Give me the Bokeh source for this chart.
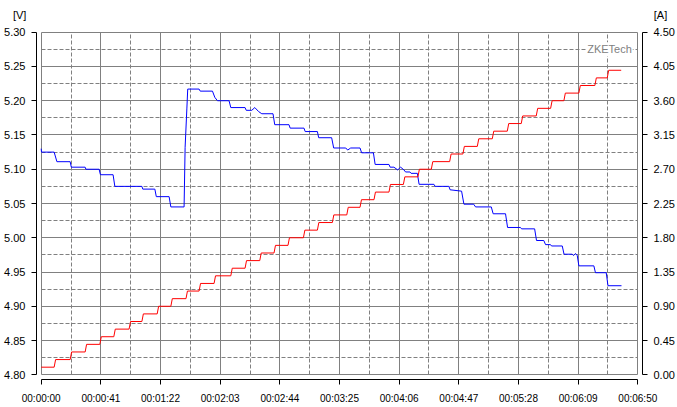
from bokeh.plotting import figure
from bokeh.models import Range1d, LinearAxis, FixedTicker, Label
from bokeh.embed import file_html
from bokeh.resources import INLINE

# ---------------- data ----------------
x_tick_seconds = [0, 41, 82, 123, 164, 205, 246, 287, 328, 369, 410]
x_tick_labels = ["00:00:00", "00:00:41", "00:01:22", "00:02:03", "00:02:44", "00:03:25",
                 "00:04:06", "00:04:47", "00:05:28", "00:06:09", "00:06:50"]
x_minor_seconds = [20.5, 61.5, 102.5, 143.5, 184.5, 225.5, 266.5, 307.5, 348.5, 389.5]

v_ticks = [4.80, 4.85, 4.90, 4.95, 5.00, 5.05, 5.10, 5.15, 5.20, 5.25, 5.30]
v_minor = [4.825, 4.875, 4.925, 4.975, 5.025, 5.075, 5.125, 5.175, 5.225, 5.275]
a_ticks = [0.00, 0.45, 0.90, 1.35, 1.80, 2.25, 2.70, 3.15, 3.60, 4.05, 4.50]

# voltage trace (seconds, volts)
blue_t = [0.0, 0.2, 8.9, 10.8, 19.9, 20.7, 30.2, 30.7, 39.8, 40.7, 49.4, 50.6, 69.2, 69.8,
          78.1, 79.1, 87.9, 89.1, 98.2, 98.9, 100.1, 100.7, 108.5, 109.3, 117.7, 119.3,
          121.1, 129.1, 130.3, 140.1, 140.9, 144.7, 146.8, 149.5, 151.6, 159.3, 160.5,
          170.3, 171.1, 180.6, 181.4, 189.8, 190.7, 199.6, 201.0, 209.3, 210.6, 212.7,
          219.1, 220.2, 228.3, 229.5, 239.0, 239.8, 242.4, 245.0, 247.0, 249.3, 250.4,
          253.4, 254.2, 258.5, 259.7, 269.9, 270.7, 280.2, 281.0, 288.9, 290.5, 297.2,
          298.5, 309.3, 310.6, 319.1, 320.5, 329.4, 330.1, 339.1, 340.4, 345.4, 346.6,
          350.0, 350.7, 358.1, 359.3, 364.9, 365.8, 367.2, 368.4, 369.5, 379.8, 380.9,
          388.3, 389.5, 398.8]
blue_v = [5.130, 5.125, 5.125, 5.111, 5.111, 5.103, 5.103, 5.100, 5.100, 5.092, 5.092, 5.075,
          5.075, 5.071, 5.071, 5.060, 5.060, 5.045, 5.045, 5.132, 5.188, 5.217, 5.217, 5.214,
          5.214, 5.205, 5.200, 5.200, 5.190, 5.190, 5.186, 5.186, 5.190, 5.184, 5.181,
          5.181, 5.165, 5.165, 5.160, 5.160, 5.155, 5.155, 5.146, 5.146, 5.131, 5.131,
          5.128, 5.131, 5.131, 5.124, 5.124, 5.107, 5.107, 5.103, 5.103, 5.099, 5.103,
          5.099, 5.096, 5.096, 5.094, 5.094, 5.078, 5.078, 5.075, 5.075, 5.070, 5.068,
          5.049, 5.049, 5.045, 5.045, 5.035, 5.035, 5.015, 5.015, 5.013, 5.013, 4.996,
          4.996, 4.990, 4.990, 4.988, 4.988, 4.976, 4.976, 4.974, 4.977, 4.974, 4.959,
          4.959, 4.949, 4.949, 4.930, 4.930]

# current trace: step times (s) and levels (A)
red_step_t = [8.9, 19.9, 30.2, 40.3, 49.9, 60.4, 69.2, 79.7, 89.1, 99.5, 108.5, 118.8,
              130.3, 140.1, 150.2, 160.0, 169.6, 180.2, 189.8, 200.1, 210.0, 219.1, 228.7,
              239.0, 248.9, 258.9, 268.1, 280.7, 289.8, 299.7, 310.0, 320.3, 329.9, 340.2,
              350.1, 359.2, 369.5, 380.5, 389.0]
red_levels = [0.1, 0.2, 0.3, 0.4, 0.5, 0.6, 0.7, 0.8, 0.9, 1.0, 1.1, 1.2, 1.3, 1.4, 1.5,
              1.6, 1.7, 1.8, 1.9, 2.0, 2.1, 2.2, 2.3, 2.4, 2.5, 2.6, 2.7, 2.8, 2.9, 3.0,
              3.1, 3.2, 3.3, 3.4, 3.5, 3.6, 3.7, 3.8, 3.9, 4.0]
red_start_t = 0.0
red_end_t = 398.6

# ---------------- build staircase ----------------
rise = 1.0
red_t = [red_start_t]
red_a = [red_levels[0]]
for i, ts in enumerate(red_step_t):
    red_t += [ts, ts + rise]
    red_a += [red_levels[i], red_levels[i + 1]]
red_t.append(red_end_t)
red_a.append(red_levels[-1])

# ---------------- layout ----------------
W, H = 677, 407
BL, BR, BT, BB = 36, 35, 27, 28
PAD = 4.7  # px gap between axis lines and grid frame
fw = W - BL - BR
fh = H - BT - BB
x0, x1 = x_tick_seconds[0], x_tick_seconds[-1]
v0, v1 = v_ticks[0], v_ticks[-1]
a0, a1 = a_ticks[0], a_ticks[-1]
xp = (x1 - x0) * PAD / (fw - 2 * PAD)
vp = (v1 - v0) * PAD / (fh - 2 * PAD)
ap = (a1 - a0) * PAD / (fh - 2 * PAD)

p = figure(width=W, height=H, output_backend="svg", toolbar_location=None,
           x_range=Range1d(x0 - xp, x1 + xp), y_range=Range1d(v0 - vp, v1 + vp),
           min_border_left=BL, min_border_right=BR, min_border_top=BT, min_border_bottom=BB)
p.extra_y_ranges = {"amps": Range1d(a0 - ap, a1 + ap)}
p.outline_line_color = None
p.background_fill_color = "white"
p.border_fill_color = "white"

FONT = "Liberation Sans"
GRID = "#808080"

xax = p.xaxis[0]
xax.ticker = FixedTicker(ticks=x_tick_seconds, minor_ticks=x_minor_seconds)
xax.major_label_overrides = {t: s for t, s in zip(x_tick_seconds, x_tick_labels)}
xax.bounds = (x0, x1)

yax = p.yaxis[0]
yax.ticker = FixedTicker(ticks=v_ticks, minor_ticks=v_minor)
yax.major_label_overrides = {t: f"{t:.2f}" for t in v_ticks}
yax.bounds = (v0, v1)

rax = LinearAxis(y_range_name="amps", ticker=FixedTicker(ticks=a_ticks),
                 major_label_overrides={t: f"{t:.2f}" for t in a_ticks}, bounds=(a0, a1))
p.add_layout(rax, "right")

for ax in (xax, yax, rax):
    ax.axis_line_color = "black"
    ax.axis_line_width = 1
    ax.major_tick_line_color = "black"
    ax.major_tick_in = 0
    ax.major_tick_out = 5
    ax.minor_tick_line_color = None
    ax.major_label_text_font = FONT
    ax.major_label_text_font_size = "11px"
    ax.major_label_text_color = "black"
    ax.major_label_standoff = 6
xax.major_label_standoff = 8
xax.major_label_text_font_size = "10px"

for g in (p.xgrid[0], p.ygrid[0]):
    g.grid_line_color = GRID
    g.grid_line_width = 1
    g.minor_grid_line_color = GRID
    g.minor_grid_line_dash = "4 2"
    g.minor_grid_line_width = 1
p.xgrid[0].cross_bounds = (v0, v1)
p.ygrid[0].cross_bounds = (x0, x1)

p.line(blue_t, blue_v, line_color="#0000ff", line_width=1)
p.line(red_t, red_a, line_color="#ff0000", line_width=1, y_range_name="amps")

p.add_layout(Label(x=x0, x_offset=-28.3, y=14, y_units="canvas", text="[V]",
                   text_font=FONT, text_font_size="11px", text_baseline="middle",
                   text_align="left", text_color="black"), "above")
p.add_layout(Label(x=x1, x_offset=16, y=14, y_units="canvas", text="[A]",
                   text_font=FONT, text_font_size="11px", text_baseline="middle",
                   text_align="left", text_color="black"), "above")
p.add_layout(Label(x=x1, y=v_minor[-1], x_offset=-5, text="ZKETech",
                   text_font=FONT, text_font_size="11px", text_baseline="middle",
                   text_align="right", text_color="#808080",
                   background_fill_color="white", padding=1))

open("out.html", "w").write(file_html(p, INLINE))
